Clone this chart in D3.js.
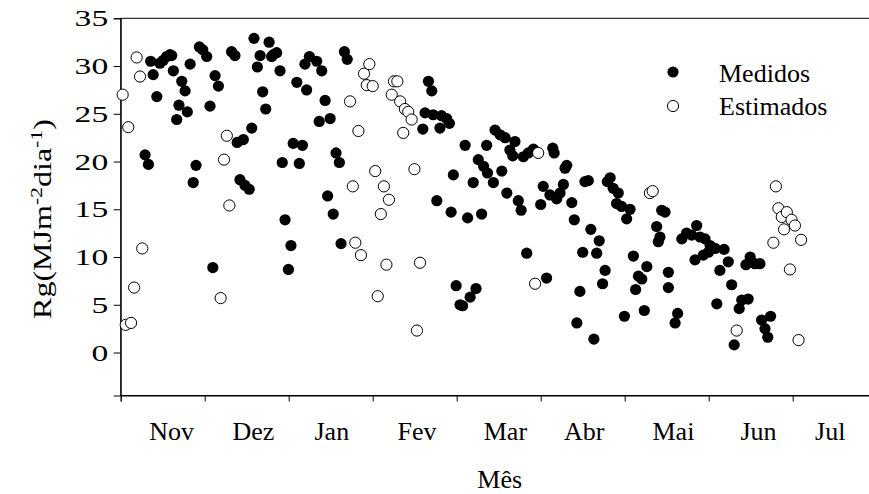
<!DOCTYPE html>
<html>
<head>
<meta charset="utf-8">
<script src="https://cdn.jsdelivr.net/npm/d3@7"></script>
<style>
  html, body { margin: 0; padding: 0; background: #fff; }
  svg { display: block; }
</style>
</head>
<body>
<svg id="chart" width="869" height="494"></svg>
<script>
// Radiação global diária (MJ m-2 dia-1): valores medidos e estimados.
// Dia contado a partir do início da série (eixo x em dias).
const medidosDia = [
  8.7, 9.9, 10.7, 11.6, 12.9, 14.0, 15.2, 16.4, 17.6, 18.2, 18.8, 20.0, 20.8, 21.8, 23.0, 23.8,
  24.8, 25.9, 26.9, 28.1, 29.3, 30.7, 31.9, 32.9, 33.7, 34.9, 39.6, 40.8, 41.6, 43.8, 42.6, 44.4,
  45.9, 46.8, 47.6, 48.8, 49.8, 50.7, 51.8, 53.0, 53.9, 54.5, 55.7, 56.9, 57.7, 58.7, 59.9, 60.8,
  61.6, 62.9, 63.8, 64.9, 65.8, 66.4, 67.4, 70.0, 71.8, 70.9, 73.0, 74.8, 73.9, 75.9, 76.9, 78.1,
  78.7, 79.9, 80.9, 107.9, 108.7, 109.9, 111.1, 111.6, 112.9, 114.0, 114.6, 116.4, 117.4, 118.0,
  118.8, 119.8, 121.2, 122.1, 123.0, 123.9, 124.8, 125.9, 126.9, 127.7, 128.9, 129.6, 131.0, 130.7,
  133.1, 133.7, 135.5, 137.3, 136.1, 137.9, 139.0, 140.0, 140.8, 142.0, 143.0, 143.8, 145.6, 147.4,
  145.0, 150.0, 150.9, 152.1, 153.3, 154.3, 154.8, 155.7, 156.9, 158.1, 158.7, 159.3, 161.1, 162.0,
  162.9, 164.0, 165.0, 165.8, 167.0, 167.9, 169.0, 170.0, 170.9, 172.1, 173.0, 173.8, 174.8, 175.9,
  177.7, 177.1, 178.9, 179.9, 180.7, 181.9, 183.1, 183.9, 184.9, 186.1, 187.0, 187.9, 191.4, 192.0,
  192.6, 193.2, 194.4, 195.6, 195.6, 198.0, 198.9, 200.4, 202.1, 203.9, 205.1, 205.7, 206.9, 208.1,
  208.7, 209.9, 210.5, 212.3, 212.9, 214.0, 215.5, 217.0, 218.2, 219.1, 220.9, 221.8, 223.3, 224.1,
  224.8, 226.5, 228.3, 228.9, 230.1, 231.1, 232.1
];
const medidosRg = [
  20.7, 19.7, 30.5, 29.1, 26.8, 30.3, 30.6, 31.0, 31.2, 31.1, 29.5, 24.4, 25.9, 28.4, 27.4, 25.2,
  30.2, 17.8, 19.6, 32.0, 31.7, 31.0, 25.8, 8.9, 29.0, 27.9, 31.5, 31.1, 22.0, 22.3, 18.1, 17.5,
  17.1, 23.5, 32.9, 29.9, 31.1, 27.3, 25.5, 32.5, 31.0, 31.2, 31.4, 29.5, 19.9, 13.9, 8.7, 11.2,
  21.9, 28.3, 19.8, 21.7, 30.2, 27.5, 31.0, 30.5, 29.5, 24.2, 26.4, 24.5, 16.4, 14.5, 20.9, 19.9,
  11.4, 31.5, 30.7, 23.4, 25.1, 28.4, 27.4, 24.9, 15.9, 23.5, 24.8, 24.5, 24.0, 14.7,
  18.6, 7.0, 5.0, 4.9, 21.7, 14.1, 5.8, 17.8, 6.7, 20.2, 14.5, 19.5, 18.8, 21.7,
  17.8, 23.3, 22.8, 22.5, 19.0, 16.7, 21.2, 20.6, 22.1, 15.9, 14.9, 20.5, 20.9, 21.3,
  10.4, 15.5, 17.4, 7.8, 16.5, 21.4, 20.9, 16.1, 16.7, 17.6, 19.3, 19.6, 15.7, 13.9,
  3.1, 6.4, 10.5, 17.9, 18.0, 12.9, 1.4, 10.4, 11.7, 7.2, 8.6, 17.9, 18.3, 17.2,
  16.7, 15.6, 15.3, 3.8, 14.0, 15.0, 10.1, 6.6, 8.0, 7.7, 4.4, 9.0, 13.2, 11.6,
  12.1, 14.9, 14.7, 8.4, 6.8, 3.1, 4.1, 11.9, 12.5, 12.3, 9.7, 13.3, 12.1, 10.2,
  11.9, 10.5, 11.2, 10.9, 5.1, 8.6, 10.8, 9.5, 7.1, 0.8, 4.6, 5.5, 9.2, 5.6,
  10.0, 9.3, 9.3, 3.4, 2.5, 1.6, 3.8
];
const estimadosDia = [
  0.7, 1.8, 2.7, 3.7, 4.8, 5.7, 6.9, 7.7, 35.7, 36.9, 37.9, 38.8,
  81.9, 82.9, 83.8, 84.9, 85.8, 86.9, 87.9, 88.8, 90.0, 90.9, 91.8, 92.9, 94.0, 94.9, 95.8,
  96.8, 97.6, 98.8, 99.8, 100.9, 101.5, 102.7, 103.9, 104.9, 105.8, 106.9,
  148.0, 149.1, 189.0, 190.0, 220.0,
  233.1, 234.0, 234.9, 236.1, 236.9, 237.9, 239.0, 239.6, 240.8, 242.1, 243.0
];
const estimadosRg = [
  27.0, 2.9, 23.6, 3.1, 6.8, 30.9, 28.9, 10.9, 5.7, 20.2, 22.7, 15.4,
  26.3, 17.4, 11.5, 23.2, 10.2, 29.2, 28.0, 30.2, 27.9, 19.0, 5.9, 14.5, 17.4, 9.2, 16.0,
  27.0, 28.4, 28.4, 26.3, 23.0, 25.5, 25.2, 24.4, 19.2, 2.3, 9.4,
  7.2, 20.9, 16.7, 16.9, 2.3,
  11.5, 17.4, 15.1, 14.2, 12.9, 14.7, 8.7, 13.9, 13.3, 1.3, 11.8
];

// Eixo x: marcas a cada 30 dias; rótulos dos meses
const xTicks = [0, 30, 60, 90, 120, 150, 180, 210, 240, 270];
const mesesLabel = ["Nov", "Dez", "Jan", "Fev", "Mar", "Abr", "Mai", "Jun", "Jul"];
const mesesPos = [18.2, 47.4, 75.4, 105.8, 137.4, 165.5, 197.4, 227.8, 253.4];
const yTicks = [0, 5, 10, 15, 20, 25, 30, 35];

const SERIF = "'Liberation Serif', 'Times New Roman', Times, 'DejaVu Serif', serif";
const FONT = 26;

const svg = d3.select("#chart");
const plotLeft = 120.7, plotRight = 876.7, plotTop = 18.3, plotBottom = 395.5;

const x = d3.scaleLinear().domain([0, 270]).range([plotLeft, plotRight]);
const y = d3.scaleLinear().domain([-4.5, 35]).range([plotBottom, plotTop]);

function serifText(sel, size = FONT) {
  return sel.style("font-family", SERIF).style("font-size", size + "px").style("fill", "#000");
}

// moldura
svg.append("rect")
  .attr("x", plotLeft).attr("y", plotTop)
  .attr("width", plotRight - plotLeft).attr("height", plotBottom - plotTop)
  .attr("fill", "none").attr("stroke", "#000").attr("stroke-width", 1);

// eixo y (rótulos com fonte alargada na horizontal)
const yAxis = svg.append("g")
  .attr("transform", `translate(${plotLeft},0)`)
  .call(d3.axisLeft(y).tickValues(yTicks).tickSize(7).tickFormat(d3.format("d")));
yAxis.select(".domain").attr("stroke", "#000");
yAxis.selectAll(".tick line").attr("stroke", "#000");
serifText(yAxis.selectAll(".tick text"), 24)
  .attr("x", 0)
  .attr("transform", "translate(-12.5,0) scale(1.4,1)");

// eixo x
const xAxis = svg.append("g")
  .attr("transform", `translate(0,${plotBottom})`)
  .call(d3.axisBottom(x).tickValues(xTicks).tickSize(6).tickFormat(""));
xAxis.select(".domain").attr("stroke", "#000");
xAxis.selectAll(".tick line").attr("stroke", "#000");

serifText(svg.append("g").selectAll("text")
  .data(mesesLabel)
  .join("text")
  .attr("x", (d, i) => x(mesesPos[i]))
  .attr("y", 440)
  .attr("text-anchor", "middle")
  .text(d => d));

// títulos dos eixos
serifText(svg.append("text")
  .attr("x", (plotLeft + plotRight) / 2 + 1)
  .attr("y", 488)
  .attr("text-anchor", "middle")
  .text("Mês"));

const yt = serifText(svg.append("text")
  .attr("transform", "translate(51,219) rotate(-90) scale(1.28,1)")
  .attr("text-anchor", "middle"), 25);
yt.append("tspan").text("Rg(MJm");
yt.append("tspan").attr("dy", -9).style("font-size", "17px").text("-2");
yt.append("tspan").attr("dy", 9).text("dia");
yt.append("tspan").attr("dy", -9).style("font-size", "17px").text("-1");
yt.append("tspan").attr("dy", 9).text(")");

// pontos
const R = 5.6;
const medidos = medidosDia.map((d, i) => ({ dia: d, rg: medidosRg[i] }));
const estimados = estimadosDia.map((d, i) => ({ dia: d, rg: estimadosRg[i] }));

svg.append("g").selectAll("circle")
  .data(medidos)
  .join("circle")
  .attr("cx", d => x(d.dia))
  .attr("cy", d => y(d.rg))
  .attr("r", R)
  .attr("fill", "#000");

svg.append("g").selectAll("circle")
  .data(estimados)
  .join("circle")
  .attr("cx", d => x(d.dia))
  .attr("cy", d => y(d.rg))
  .attr("r", R)
  .attr("fill", "#fff")
  .attr("stroke", "#000")
  .attr("stroke-width", 1);

// legenda
const legend = svg.append("g");
legend.append("circle").attr("cx", 673).attr("cy", 72).attr("r", R).attr("fill", "#000");
serifText(legend.append("text").attr("x", 719).attr("y", 82).text("Medidos"));
legend.append("circle").attr("cx", 673).attr("cy", 106).attr("r", R)
  .attr("fill", "#fff").attr("stroke", "#000").attr("stroke-width", 1);
serifText(legend.append("text").attr("x", 719).attr("y", 115).text("Estimados"));
</script>
</body>
</html>
